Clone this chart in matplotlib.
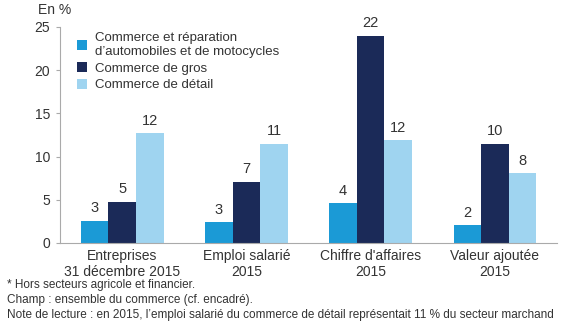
import matplotlib.pyplot as plt
import numpy as np

plt.rcParams['font.family'] = ['Liberation Sans', 'DejaVu Sans']

categories = ['Entreprises\n31 décembre 2015', 'Emploi salarié\n2015',
              "Chiffre d'affaires\n2015", 'Valeur ajoutée\n2015']
series = ['Commerce et réparation\nd\u2019automobiles et de motocycles',
          'Commerce de gros', 'Commerce de détail']
# bar heights as drawn, and the printed labels
auto_h = [2.6, 2.4, 4.6, 2.1]
gros_h = [4.8, 7.1, 24.0, 11.5]
detail_h = [12.7, 11.5, 11.9, 8.1]
auto_lbl = [3, 3, 4, 2]
gros_lbl = [5, 7, 22, 10]
detail_lbl = [12, 11, 12, 8]
colors = ['#1b9ad6', '#1b2a58', '#9fd4f0']

fig = plt.figure(figsize=(5.61, 3.21), dpi=100)
ax = fig.add_axes([0.107, 0.243, 0.886, 0.673])

x = np.arange(len(categories))
w = 0.222
for k, (h, lbl) in enumerate([(auto_h, auto_lbl), (gros_h, gros_lbl), (detail_h, detail_lbl)]):
    pos = x + (k - 1) * w
    ax.bar(pos, h, width=w, color=colors[k], label=series[k])
    for p, v, t in zip(pos, h, lbl):
        ax.text(p, v + 0.6, str(t), ha='center', va='bottom', fontsize=10.5, color='#333333')

ax.set_xlim(-0.5, 3.5)
ax.set_ylim(0, 25)
ax.set_yticks([0, 5, 10, 15, 20, 25])
ax.set_xticks(x)
ax.set_xticklabels(categories, fontsize=10, color='#333333', linespacing=1.25)
ax.tick_params(axis='x', length=0, pad=4)
ax.tick_params(axis='y', length=3, color='#aaaaaa', labelsize=10, labelcolor='#333333', pad=4)
for s in ['top', 'right']:
    ax.spines[s].set_visible(False)
ax.spines['left'].set_color('#aaaaaa')
ax.spines['bottom'].set_color('#aaaaaa')

leg = ax.legend(loc='upper left', bbox_to_anchor=(0.01, 1.03), frameon=False,
                fontsize=9.5, handlelength=0.8, handleheight=0.8, handletextpad=0.6,
                labelspacing=0.3, labelcolor='#333333')

fig.text(0.068, 0.99, 'En %', fontsize=10, color='#333333', va='top')
foot = ['* Hors secteurs agricole et financier.',
        'Champ : ensemble du commerce (cf. encadré).',
        'Note de lecture : en 2015, l\u2019emploi salarié du commerce de détail représentait 11 % du secteur marchand']
for i, t in enumerate(foot):
    fig.text(0.012, 1 - (285 + i * 15) / 321, t, fontsize=8.5, color='#333333', va='center')

fig.savefig('out.png', dpi=100)
